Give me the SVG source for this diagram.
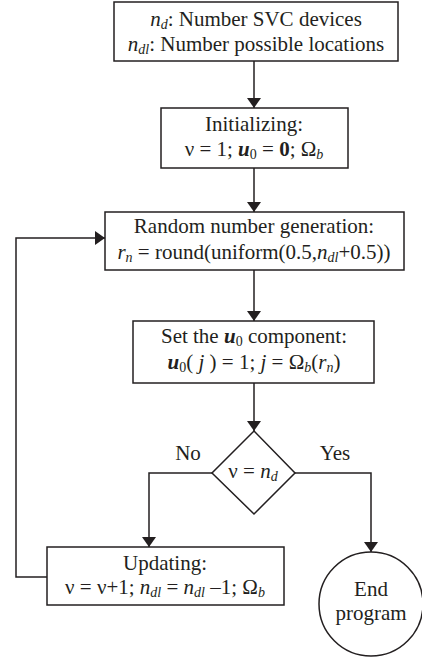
<svg xmlns="http://www.w3.org/2000/svg" width="422" height="659" viewBox="0 0 422 659">
<defs>
<style>
.box{fill:#fff;stroke:#231f20;stroke-width:1.5}
.ln{fill:none;stroke:#231f20;stroke-width:1.5}
text{font-family:"Liberation Serif","Times New Roman",serif;font-size:21px;fill:#231f20;text-anchor:middle}
.i{font-style:italic}
.b{font-weight:bold;font-style:italic}
.s{font-size:14px}
</style>
<marker id="ah" viewBox="0 0 10 14" refX="10" refY="7" markerWidth="10" markerHeight="14" markerUnits="userSpaceOnUse" orient="auto">
<path d="M0,0 L10,7 L0,14 Z" fill="#231f20"/>
</marker>
</defs>
<rect width="422" height="659" fill="#fff"/>
<g id="connectors">
<line class="ln" x1="254" y1="61" x2="254" y2="108" marker-end="url(#ah)"/>
<line class="ln" x1="254" y1="168" x2="254" y2="212" marker-end="url(#ah)"/>
<line class="ln" x1="254" y1="270" x2="254" y2="321" marker-end="url(#ah)"/>
<line class="ln" x1="254" y1="383" x2="254" y2="431" marker-end="url(#ah)"/>
<polyline class="ln" points="212,473 149,473 149,547" marker-end="url(#ah)"/>
<polyline class="ln" points="295,473 371,473 371,552" marker-end="url(#ah)"/>
<polyline class="ln" points="47,577 16,577 16,238 105,238" marker-end="url(#ah)"/>
<text x="188" y="460">No</text>
<text x="335" y="460">Yes</text>
</g>
<g id="n1">
<rect class="box" x="114" y="2" width="284" height="59"/>
<text x="256" y="26"><tspan class="i">n</tspan><tspan class="i s" dy="3">d</tspan><tspan dy="-3">: Number SVC devices</tspan></text>
<text x="256" y="51"><tspan class="i">n</tspan><tspan class="i s" dy="3">dl</tspan><tspan dy="-3">: Number possible locations</tspan></text>
</g>
<g id="n2">
<rect class="box" x="161" y="108" width="187" height="60"/>
<text x="254" y="131">Initializing:</text>
<text x="254" y="156">ν = 1;  <tspan class="b">u</tspan><tspan class="s" dy="3">0</tspan><tspan dy="-3"> = </tspan><tspan font-weight="bold">0</tspan>; Ω<tspan class="i s" dy="3">b</tspan></text>
</g>
<g id="n3">
<rect class="box" x="105" y="212" width="299" height="58"/>
<text x="254" y="233">Random number generation:</text>
<text x="254" y="259"><tspan class="i">r</tspan><tspan class="i s" dy="3">n</tspan><tspan dy="-3"> = round(uniform(0.5,</tspan><tspan class="i">n</tspan><tspan class="i s" dy="3">dl</tspan><tspan dy="-3">+0.5))</tspan></text>
</g>
<g id="n4">
<rect class="box" x="133" y="321" width="241" height="62"/>
<text x="254" y="343">Set the <tspan class="b">u</tspan><tspan class="s" dy="3">0</tspan><tspan dy="-3"> component:</tspan></text>
<text x="254" y="369"><tspan class="b">u</tspan><tspan class="s" dy="3">0</tspan><tspan dy="-3">( </tspan><tspan class="i">j</tspan> ) = 1; <tspan class="i">j</tspan> = Ω<tspan class="i s" dy="3">b</tspan><tspan dy="-3">(</tspan><tspan class="i">r</tspan><tspan class="i s" dy="3">n</tspan><tspan dy="-3">)</tspan></text>
</g>
<g id="n5">
<polygon class="box" points="254,431 295,473 254,514 212,473"/>
<text x="253" y="478">ν = <tspan class="i">n</tspan><tspan class="i s" dy="3">d</tspan></text>
</g>
<g id="n6">
<rect class="box" x="47" y="547" width="237" height="58"/>
<text x="165" y="570">Updating:</text>
<text x="165" y="594">ν = ν+1; <tspan class="i">n</tspan><tspan class="i s" dy="3">dl</tspan><tspan dy="-3"> = </tspan><tspan class="i">n</tspan><tspan class="i s" dy="3">dl</tspan><tspan dy="-3"> –1; Ω</tspan><tspan class="i s" dy="3">b</tspan></text>
</g>
<g id="n7">
<circle class="box" cx="371" cy="604" r="52"/>
<text x="371" y="596">End</text>
<text x="371" y="620">program</text>
</g>
</svg>
